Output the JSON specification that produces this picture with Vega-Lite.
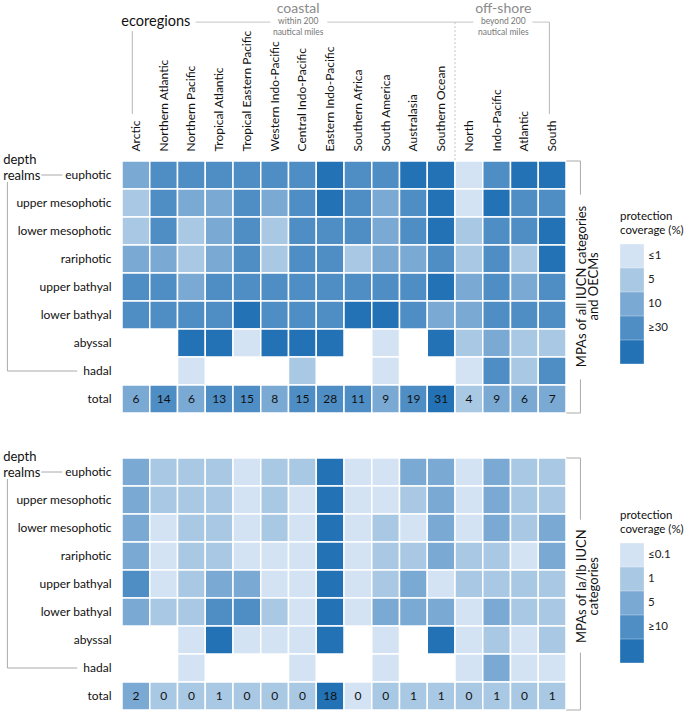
{
"$schema":"https://vega.github.io/schema/vega-lite/v6.json",
"padding":{"left":3,"top":2,"right":0,"bottom":0},
"config":{"font":"Lato","view":{"stroke":null}},
"spacing":36,
"resolve":{"scale":{"color":"independent"},"legend":{"color":"independent"}},
"datasets":{
"all":[
{"r":"Arctic","d":"euphotic","c":3},{"r":"Northern Atlantic","d":"euphotic","c":4},{"r":"Northern Pacific","d":"euphotic","c":4},{"r":"Tropical Atlantic","d":"euphotic","c":4},{"r":"Tropical Eastern Pacific","d":"euphotic","c":4},{"r":"Western Indo-Pacific","d":"euphotic","c":4},{"r":"Central Indo-Pacific","d":"euphotic","c":4},{"r":"Eastern Indo-Pacific","d":"euphotic","c":5},{"r":"Southern Africa","d":"euphotic","c":4},{"r":"South America","d":"euphotic","c":4},{"r":"Australasia","d":"euphotic","c":5},{"r":"Southern Ocean","d":"euphotic","c":5},{"r":"North","d":"euphotic","c":1},{"r":"Indo-Pacific","d":"euphotic","c":4},{"r":"Atlantic","d":"euphotic","c":5},{"r":"South","d":"euphotic","c":5},
{"r":"Arctic","d":"upper mesophotic","c":2},{"r":"Northern Atlantic","d":"upper mesophotic","c":4},{"r":"Northern Pacific","d":"upper mesophotic","c":3},{"r":"Tropical Atlantic","d":"upper mesophotic","c":3},{"r":"Tropical Eastern Pacific","d":"upper mesophotic","c":4},{"r":"Western Indo-Pacific","d":"upper mesophotic","c":3},{"r":"Central Indo-Pacific","d":"upper mesophotic","c":4},{"r":"Eastern Indo-Pacific","d":"upper mesophotic","c":5},{"r":"Southern Africa","d":"upper mesophotic","c":4},{"r":"South America","d":"upper mesophotic","c":3},{"r":"Australasia","d":"upper mesophotic","c":4},{"r":"Southern Ocean","d":"upper mesophotic","c":5},{"r":"North","d":"upper mesophotic","c":1},{"r":"Indo-Pacific","d":"upper mesophotic","c":5},{"r":"Atlantic","d":"upper mesophotic","c":4},{"r":"South","d":"upper mesophotic","c":4},
{"r":"Arctic","d":"lower mesophotic","c":2},{"r":"Northern Atlantic","d":"lower mesophotic","c":4},{"r":"Northern Pacific","d":"lower mesophotic","c":2},{"r":"Tropical Atlantic","d":"lower mesophotic","c":3},{"r":"Tropical Eastern Pacific","d":"lower mesophotic","c":4},{"r":"Western Indo-Pacific","d":"lower mesophotic","c":2},{"r":"Central Indo-Pacific","d":"lower mesophotic","c":4},{"r":"Eastern Indo-Pacific","d":"lower mesophotic","c":4},{"r":"Southern Africa","d":"lower mesophotic","c":4},{"r":"South America","d":"lower mesophotic","c":3},{"r":"Australasia","d":"lower mesophotic","c":4},{"r":"Southern Ocean","d":"lower mesophotic","c":5},{"r":"North","d":"lower mesophotic","c":2},{"r":"Indo-Pacific","d":"lower mesophotic","c":4},{"r":"Atlantic","d":"lower mesophotic","c":4},{"r":"South","d":"lower mesophotic","c":5},
{"r":"Arctic","d":"rariphotic","c":3},{"r":"Northern Atlantic","d":"rariphotic","c":3},{"r":"Northern Pacific","d":"rariphotic","c":2},{"r":"Tropical Atlantic","d":"rariphotic","c":3},{"r":"Tropical Eastern Pacific","d":"rariphotic","c":4},{"r":"Western Indo-Pacific","d":"rariphotic","c":2},{"r":"Central Indo-Pacific","d":"rariphotic","c":4},{"r":"Eastern Indo-Pacific","d":"rariphotic","c":4},{"r":"Southern Africa","d":"rariphotic","c":2},{"r":"South America","d":"rariphotic","c":3},{"r":"Australasia","d":"rariphotic","c":3},{"r":"Southern Ocean","d":"rariphotic","c":4},{"r":"North","d":"rariphotic","c":2},{"r":"Indo-Pacific","d":"rariphotic","c":4},{"r":"Atlantic","d":"rariphotic","c":2},{"r":"South","d":"rariphotic","c":5},
{"r":"Arctic","d":"upper bathyal","c":4},{"r":"Northern Atlantic","d":"upper bathyal","c":4},{"r":"Northern Pacific","d":"upper bathyal","c":3},{"r":"Tropical Atlantic","d":"upper bathyal","c":4},{"r":"Tropical Eastern Pacific","d":"upper bathyal","c":4},{"r":"Western Indo-Pacific","d":"upper bathyal","c":4},{"r":"Central Indo-Pacific","d":"upper bathyal","c":4},{"r":"Eastern Indo-Pacific","d":"upper bathyal","c":4},{"r":"Southern Africa","d":"upper bathyal","c":4},{"r":"South America","d":"upper bathyal","c":4},{"r":"Australasia","d":"upper bathyal","c":4},{"r":"Southern Ocean","d":"upper bathyal","c":5},{"r":"North","d":"upper bathyal","c":3},{"r":"Indo-Pacific","d":"upper bathyal","c":4},{"r":"Atlantic","d":"upper bathyal","c":3},{"r":"South","d":"upper bathyal","c":4},
{"r":"Arctic","d":"lower bathyal","c":4},{"r":"Northern Atlantic","d":"lower bathyal","c":4},{"r":"Northern Pacific","d":"lower bathyal","c":4},{"r":"Tropical Atlantic","d":"lower bathyal","c":4},{"r":"Tropical Eastern Pacific","d":"lower bathyal","c":5},{"r":"Western Indo-Pacific","d":"lower bathyal","c":4},{"r":"Central Indo-Pacific","d":"lower bathyal","c":4},{"r":"Eastern Indo-Pacific","d":"lower bathyal","c":4},{"r":"Southern Africa","d":"lower bathyal","c":5},{"r":"South America","d":"lower bathyal","c":5},{"r":"Australasia","d":"lower bathyal","c":4},{"r":"Southern Ocean","d":"lower bathyal","c":3},{"r":"North","d":"lower bathyal","c":3},{"r":"Indo-Pacific","d":"lower bathyal","c":4},{"r":"Atlantic","d":"lower bathyal","c":4},{"r":"South","d":"lower bathyal","c":4},
{"r":"Northern Pacific","d":"abyssal","c":5},{"r":"Tropical Atlantic","d":"abyssal","c":5},{"r":"Tropical Eastern Pacific","d":"abyssal","c":1},{"r":"Western Indo-Pacific","d":"abyssal","c":5},{"r":"Central Indo-Pacific","d":"abyssal","c":5},{"r":"Eastern Indo-Pacific","d":"abyssal","c":5},{"r":"South America","d":"abyssal","c":1},{"r":"Southern Ocean","d":"abyssal","c":5},{"r":"North","d":"abyssal","c":2},{"r":"Indo-Pacific","d":"abyssal","c":3},{"r":"Atlantic","d":"abyssal","c":2},{"r":"South","d":"abyssal","c":2},
{"r":"Northern Pacific","d":"hadal","c":1},{"r":"Central Indo-Pacific","d":"hadal","c":2},{"r":"South America","d":"hadal","c":1},{"r":"North","d":"hadal","c":1},{"r":"Indo-Pacific","d":"hadal","c":4},{"r":"Atlantic","d":"hadal","c":2},{"r":"South","d":"hadal","c":4},
{"r":"Arctic","d":"total","c":3,"n":6},{"r":"Northern Atlantic","d":"total","c":4,"n":14},{"r":"Northern Pacific","d":"total","c":3,"n":6},{"r":"Tropical Atlantic","d":"total","c":4,"n":13},{"r":"Tropical Eastern Pacific","d":"total","c":4,"n":15},{"r":"Western Indo-Pacific","d":"total","c":3,"n":8},{"r":"Central Indo-Pacific","d":"total","c":4,"n":15},{"r":"Eastern Indo-Pacific","d":"total","c":4,"n":28},{"r":"Southern Africa","d":"total","c":4,"n":11},{"r":"South America","d":"total","c":3,"n":9},{"r":"Australasia","d":"total","c":4,"n":19},{"r":"Southern Ocean","d":"total","c":5,"n":31},{"r":"North","d":"total","c":2,"n":4},{"r":"Indo-Pacific","d":"total","c":3,"n":9},{"r":"Atlantic","d":"total","c":3,"n":6},{"r":"South","d":"total","c":3,"n":7}
],
"ia":[
{"r":"Arctic","d":"euphotic","c":3},{"r":"Northern Atlantic","d":"euphotic","c":2},{"r":"Northern Pacific","d":"euphotic","c":2},{"r":"Tropical Atlantic","d":"euphotic","c":2},{"r":"Tropical Eastern Pacific","d":"euphotic","c":1},{"r":"Western Indo-Pacific","d":"euphotic","c":2},{"r":"Central Indo-Pacific","d":"euphotic","c":2},{"r":"Eastern Indo-Pacific","d":"euphotic","c":5},{"r":"Southern Africa","d":"euphotic","c":1},{"r":"South America","d":"euphotic","c":1},{"r":"Australasia","d":"euphotic","c":3},{"r":"Southern Ocean","d":"euphotic","c":3},{"r":"North","d":"euphotic","c":1},{"r":"Indo-Pacific","d":"euphotic","c":3},{"r":"Atlantic","d":"euphotic","c":2},{"r":"South","d":"euphotic","c":2},
{"r":"Arctic","d":"upper mesophotic","c":3},{"r":"Northern Atlantic","d":"upper mesophotic","c":2},{"r":"Northern Pacific","d":"upper mesophotic","c":2},{"r":"Tropical Atlantic","d":"upper mesophotic","c":2},{"r":"Tropical Eastern Pacific","d":"upper mesophotic","c":1},{"r":"Western Indo-Pacific","d":"upper mesophotic","c":2},{"r":"Central Indo-Pacific","d":"upper mesophotic","c":1},{"r":"Eastern Indo-Pacific","d":"upper mesophotic","c":5},{"r":"Southern Africa","d":"upper mesophotic","c":1},{"r":"South America","d":"upper mesophotic","c":1},{"r":"Australasia","d":"upper mesophotic","c":2},{"r":"Southern Ocean","d":"upper mesophotic","c":3},{"r":"North","d":"upper mesophotic","c":1},{"r":"Indo-Pacific","d":"upper mesophotic","c":3},{"r":"Atlantic","d":"upper mesophotic","c":2},{"r":"South","d":"upper mesophotic","c":2},
{"r":"Arctic","d":"lower mesophotic","c":3},{"r":"Northern Atlantic","d":"lower mesophotic","c":1},{"r":"Northern Pacific","d":"lower mesophotic","c":2},{"r":"Tropical Atlantic","d":"lower mesophotic","c":2},{"r":"Tropical Eastern Pacific","d":"lower mesophotic","c":1},{"r":"Western Indo-Pacific","d":"lower mesophotic","c":2},{"r":"Central Indo-Pacific","d":"lower mesophotic","c":1},{"r":"Eastern Indo-Pacific","d":"lower mesophotic","c":5},{"r":"Southern Africa","d":"lower mesophotic","c":1},{"r":"South America","d":"lower mesophotic","c":2},{"r":"Australasia","d":"lower mesophotic","c":1},{"r":"Southern Ocean","d":"lower mesophotic","c":3},{"r":"North","d":"lower mesophotic","c":1},{"r":"Indo-Pacific","d":"lower mesophotic","c":3},{"r":"Atlantic","d":"lower mesophotic","c":2},{"r":"South","d":"lower mesophotic","c":3},
{"r":"Arctic","d":"rariphotic","c":3},{"r":"Northern Atlantic","d":"rariphotic","c":1},{"r":"Northern Pacific","d":"rariphotic","c":2},{"r":"Tropical Atlantic","d":"rariphotic","c":2},{"r":"Tropical Eastern Pacific","d":"rariphotic","c":1},{"r":"Western Indo-Pacific","d":"rariphotic","c":1},{"r":"Central Indo-Pacific","d":"rariphotic","c":1},{"r":"Eastern Indo-Pacific","d":"rariphotic","c":5},{"r":"Southern Africa","d":"rariphotic","c":1},{"r":"South America","d":"rariphotic","c":2},{"r":"Australasia","d":"rariphotic","c":2},{"r":"Southern Ocean","d":"rariphotic","c":3},{"r":"North","d":"rariphotic","c":2},{"r":"Indo-Pacific","d":"rariphotic","c":2},{"r":"Atlantic","d":"rariphotic","c":1},{"r":"South","d":"rariphotic","c":3},
{"r":"Arctic","d":"upper bathyal","c":4},{"r":"Northern Atlantic","d":"upper bathyal","c":1},{"r":"Northern Pacific","d":"upper bathyal","c":2},{"r":"Tropical Atlantic","d":"upper bathyal","c":3},{"r":"Tropical Eastern Pacific","d":"upper bathyal","c":3},{"r":"Western Indo-Pacific","d":"upper bathyal","c":1},{"r":"Central Indo-Pacific","d":"upper bathyal","c":1},{"r":"Eastern Indo-Pacific","d":"upper bathyal","c":5},{"r":"Southern Africa","d":"upper bathyal","c":1},{"r":"South America","d":"upper bathyal","c":2},{"r":"Australasia","d":"upper bathyal","c":3},{"r":"Southern Ocean","d":"upper bathyal","c":1},{"r":"North","d":"upper bathyal","c":2},{"r":"Indo-Pacific","d":"upper bathyal","c":2},{"r":"Atlantic","d":"upper bathyal","c":2},{"r":"South","d":"upper bathyal","c":2},
{"r":"Arctic","d":"lower bathyal","c":3},{"r":"Northern Atlantic","d":"lower bathyal","c":2},{"r":"Northern Pacific","d":"lower bathyal","c":2},{"r":"Tropical Atlantic","d":"lower bathyal","c":4},{"r":"Tropical Eastern Pacific","d":"lower bathyal","c":4},{"r":"Western Indo-Pacific","d":"lower bathyal","c":2},{"r":"Central Indo-Pacific","d":"lower bathyal","c":1},{"r":"Eastern Indo-Pacific","d":"lower bathyal","c":5},{"r":"Southern Africa","d":"lower bathyal","c":1},{"r":"South America","d":"lower bathyal","c":3},{"r":"Australasia","d":"lower bathyal","c":3},{"r":"Southern Ocean","d":"lower bathyal","c":3},{"r":"North","d":"lower bathyal","c":1},{"r":"Indo-Pacific","d":"lower bathyal","c":3},{"r":"Atlantic","d":"lower bathyal","c":2},{"r":"South","d":"lower bathyal","c":2},
{"r":"Northern Pacific","d":"abyssal","c":1},{"r":"Tropical Atlantic","d":"abyssal","c":5},{"r":"Tropical Eastern Pacific","d":"abyssal","c":1},{"r":"Western Indo-Pacific","d":"abyssal","c":1},{"r":"Central Indo-Pacific","d":"abyssal","c":1},{"r":"Eastern Indo-Pacific","d":"abyssal","c":5},{"r":"South America","d":"abyssal","c":1},{"r":"Southern Ocean","d":"abyssal","c":5},{"r":"North","d":"abyssal","c":1},{"r":"Indo-Pacific","d":"abyssal","c":2},{"r":"Atlantic","d":"abyssal","c":1},{"r":"South","d":"abyssal","c":2},
{"r":"Northern Pacific","d":"hadal","c":1},{"r":"Central Indo-Pacific","d":"hadal","c":1},{"r":"South America","d":"hadal","c":1},{"r":"North","d":"hadal","c":1},{"r":"Indo-Pacific","d":"hadal","c":3},{"r":"Atlantic","d":"hadal","c":1},{"r":"South","d":"hadal","c":1},
{"r":"Arctic","d":"total","c":3,"n":2},{"r":"Northern Atlantic","d":"total","c":2,"n":0},{"r":"Northern Pacific","d":"total","c":2,"n":0},{"r":"Tropical Atlantic","d":"total","c":2,"n":1},{"r":"Tropical Eastern Pacific","d":"total","c":2,"n":0},{"r":"Western Indo-Pacific","d":"total","c":2,"n":0},{"r":"Central Indo-Pacific","d":"total","c":2,"n":0},{"r":"Eastern Indo-Pacific","d":"total","c":5,"n":18},{"r":"Southern Africa","d":"total","c":1,"n":0},{"r":"South America","d":"total","c":2,"n":0},{"r":"Australasia","d":"total","c":2,"n":1},{"r":"Southern Ocean","d":"total","c":2,"n":1},{"r":"North","d":"total","c":2,"n":0},{"r":"Indo-Pacific","d":"total","c":2,"n":1},{"r":"Atlantic","d":"total","c":2,"n":0},{"r":"South","d":"total","c":2,"n":1}
]},
"vconcat":[
{"width":444,"height":252,
"resolve":{"scale":{"x":"independent","y":"independent"}},
"layer":[
{"data":{"name":"all"},
"encoding":{
"x":{"field":"r","type":"nominal","sort":null,"scale":{"domain":["Arctic","Northern Atlantic","Northern Pacific","Tropical Atlantic","Tropical Eastern Pacific","Western Indo-Pacific","Central Indo-Pacific","Eastern Indo-Pacific","Southern Africa","South America","Australasia","Southern Ocean","North","Indo-Pacific","Atlantic","South"],"paddingInner":0,"paddingOuter":0},"axis":{"orient":"top","title":null,"domain":false,"ticks":false,"labelAngle":-90,"labelFontSize":12,"labelPadding":10,"labelColor":"#111","labelLimit":200}},
"y":{"field":"d","type":"nominal","sort":null,"scale":{"domain":["euphotic","upper mesophotic","lower mesophotic","rariphotic","upper bathyal","lower bathyal","abyssal","hadal","total"],"paddingInner":0,"paddingOuter":0},"axis":{"title":null,"domain":false,"ticks":false,"labelFontSize":12,"labelPadding":11,"labelColor":"#111"}}},
"layer":[
{"mark":{"type":"rect","stroke":"white","strokeWidth":1.5},
"encoding":{"color":{"field":"c","type":"ordinal","scale":{"domain":[1,2,3,4,5],"range":["#d3e3f3","#a9c8e3","#7aa9d4","#4e8ec5","#2372b5"]},
"legend":{"title":["protection","coverage (%)"],"orient":"none","legendX":498,"legendY":50,"direction":"vertical","symbolType":"square","symbolSize":560,"symbolStrokeWidth":0,"symbolOpacity":1,"rowPadding":0,"titleFontWeight":"normal","titleFontSize":11.5,"titleColor":"#111","titlePadding":8,"labelFontSize":11.5,"labelColor":"#222","labelOffset":4,"labelExpr":"datum.value == 1 ? '≤1' : datum.value == 2 ? '5' : datum.value == 3 ? '10' : datum.value == 4 ? '≥30' : ''","encode":{"labels":{"update":{"dy":{"value":12}}}}}}}},
{"mark":{"type":"text","fontSize":12,"color":"#111"},"transform":[{"filter":"isValid(datum.n)"}],"encoding":{"text":{"field":"n","type":"quantitative"}}}
]},
{"data":{"values":[{}]},
"layer":[
{"mark":{"type":"text","align":"right","baseline":"middle","fontSize":14.5,"color":"#111","text":"ecoregions"},"encoding":{"x":{"datum":2.46,"type":"quantitative","scale":{"domain":[0,16],"nice":false,"zero":false},"axis":null},"y":{"datum":-4.96,"type":"quantitative","scale":{"domain":[0,9],"nice":false,"zero":false,"reverse":true},"axis":null}}},
{"mark":{"type":"rule","color":"#c4c4c4"},"encoding":{"x":{"datum":2.65,"type":"quantitative","scale":{"domain":[0,16],"nice":false,"zero":false},"axis":null},"x2":{"datum":5.35},"y":{"datum":-4.96,"type":"quantitative","scale":{"domain":[0,9],"nice":false,"zero":false,"reverse":true},"axis":null}}},
{"mark":{"type":"rule","color":"#c4c4c4"},"encoding":{"x":{"datum":7.4,"type":"quantitative","scale":{"domain":[0,16],"nice":false,"zero":false},"axis":null},"x2":{"datum":12.66},"y":{"datum":-4.96,"type":"quantitative","scale":{"domain":[0,9],"nice":false,"zero":false,"reverse":true},"axis":null}}},
{"mark":{"type":"rule","color":"#c4c4c4"},"encoding":{"x":{"datum":14.79,"type":"quantitative","scale":{"domain":[0,16],"nice":false,"zero":false},"axis":null},"x2":{"datum":15.4},"y":{"datum":-4.96,"type":"quantitative","scale":{"domain":[0,9],"nice":false,"zero":false,"reverse":true},"axis":null}}},
{"mark":{"type":"rule","color":"#b5b5b5"},"encoding":{"x":{"datum":15.4,"type":"quantitative","scale":{"domain":[0,16],"nice":false,"zero":false},"axis":null},"y":{"datum":-4.96,"type":"quantitative","scale":{"domain":[0,9],"nice":false,"zero":false,"reverse":true},"axis":null},"y2":{"datum":-1.68}}},
{"mark":{"type":"rule","color":"#b5b5b5"},"encoding":{"x":{"datum":0.37,"type":"quantitative","scale":{"domain":[0,16],"nice":false,"zero":false},"axis":null},"y":{"datum":-4.64,"type":"quantitative","scale":{"domain":[0,9],"nice":false,"zero":false,"reverse":true},"axis":null},"y2":{"datum":-1.68}}},
{"mark":{"type":"rule","color":"#c4c4c4","strokeDash":[2,2]},"encoding":{"x":{"datum":12,"type":"quantitative","scale":{"domain":[0,16],"nice":false,"zero":false},"axis":null},"y":{"datum":-4.96,"type":"quantitative","scale":{"domain":[0,9],"nice":false,"zero":false,"reverse":true},"axis":null},"y2":{"datum":0}}},
{"mark":{"type":"text","align":"center","baseline":"middle","fontSize":14,"color":"#8a8a8a","text":"coastal"},"encoding":{"x":{"datum":6.35,"type":"quantitative","scale":{"domain":[0,16],"nice":false,"zero":false},"axis":null},"y":{"datum":-5.42,"type":"quantitative","scale":{"domain":[0,9],"nice":false,"zero":false,"reverse":true},"axis":null}}},
{"mark":{"type":"text","align":"center","baseline":"middle","fontSize":8.5,"color":"#777","text":"within 200"},"encoding":{"x":{"datum":6.35,"type":"quantitative","scale":{"domain":[0,16],"nice":false,"zero":false},"axis":null},"y":{"datum":-5.0,"type":"quantitative","scale":{"domain":[0,9],"nice":false,"zero":false,"reverse":true},"axis":null}}},
{"mark":{"type":"text","align":"center","baseline":"middle","fontSize":8.5,"color":"#777","text":"nautical miles"},"encoding":{"x":{"datum":6.35,"type":"quantitative","scale":{"domain":[0,16],"nice":false,"zero":false},"axis":null},"y":{"datum":-4.62,"type":"quantitative","scale":{"domain":[0,9],"nice":false,"zero":false,"reverse":true},"axis":null}}},
{"mark":{"type":"text","align":"center","baseline":"middle","fontSize":14,"color":"#8a8a8a","text":"off-shore"},"encoding":{"x":{"datum":13.74,"type":"quantitative","scale":{"domain":[0,16],"nice":false,"zero":false},"axis":null},"y":{"datum":-5.42,"type":"quantitative","scale":{"domain":[0,9],"nice":false,"zero":false,"reverse":true},"axis":null}}},
{"mark":{"type":"text","align":"center","baseline":"middle","fontSize":8.5,"color":"#777","text":"beyond 200"},"encoding":{"x":{"datum":13.74,"type":"quantitative","scale":{"domain":[0,16],"nice":false,"zero":false},"axis":null},"y":{"datum":-5.0,"type":"quantitative","scale":{"domain":[0,9],"nice":false,"zero":false,"reverse":true},"axis":null}}},
{"mark":{"type":"text","align":"center","baseline":"middle","fontSize":8.5,"color":"#777","text":"nautical miles"},"encoding":{"x":{"datum":13.74,"type":"quantitative","scale":{"domain":[0,16],"nice":false,"zero":false},"axis":null},"y":{"datum":-4.62,"type":"quantitative","scale":{"domain":[0,9],"nice":false,"zero":false,"reverse":true},"axis":null}}},
{"mark":{"type":"rule","color":"#aaa"},"encoding":{"x":{"datum":16.01,"type":"quantitative","scale":{"domain":[0,16],"nice":false,"zero":false},"axis":null},"x2":{"datum":16.52},"y":{"datum":0,"type":"quantitative","scale":{"domain":[0,9],"nice":false,"zero":false,"reverse":true},"axis":null}}},
{"mark":{"type":"rule","color":"#aaa"},"encoding":{"x":{"datum":16.01,"type":"quantitative","scale":{"domain":[0,16],"nice":false,"zero":false},"axis":null},"x2":{"datum":16.52},"y":{"datum":9,"type":"quantitative","scale":{"domain":[0,9],"nice":false,"zero":false,"reverse":true},"axis":null}}},
{"mark":{"type":"rule","color":"#aaa"},"encoding":{"x":{"datum":16.52,"type":"quantitative","scale":{"domain":[0,16],"nice":false,"zero":false},"axis":null},"y":{"datum":0,"type":"quantitative","scale":{"domain":[0,9],"nice":false,"zero":false,"reverse":true},"axis":null},"y2":{"datum":1.2}}},
{"mark":{"type":"rule","color":"#aaa"},"encoding":{"x":{"datum":16.52,"type":"quantitative","scale":{"domain":[0,16],"nice":false,"zero":false},"axis":null},"y":{"datum":7.8,"type":"quantitative","scale":{"domain":[0,9],"nice":false,"zero":false,"reverse":true},"axis":null},"y2":{"datum":9}}},
{"mark":{"type":"text","align":"center","baseline":"middle","angle":270,"fontSize":13,"color":"#111","text":"MPAs of all IUCN categories"},"encoding":{"x":{"datum":16.59,"type":"quantitative","scale":{"domain":[0,16],"nice":false,"zero":false},"axis":null},"y":{"datum":4.48,"type":"quantitative","scale":{"domain":[0,9],"nice":false,"zero":false,"reverse":true},"axis":null}}},
{"mark":{"type":"text","align":"center","baseline":"middle","angle":270,"fontSize":13,"color":"#111","text":"and OECMs"},"encoding":{"x":{"datum":17.02,"type":"quantitative","scale":{"domain":[0,16],"nice":false,"zero":false},"axis":null},"y":{"datum":4.48,"type":"quantitative","scale":{"domain":[0,9],"nice":false,"zero":false,"reverse":true},"axis":null}}},
{"mark":{"type":"text","align":"left","baseline":"middle","fontSize":13,"color":"#111","text":"depth"},"encoding":{"x":{"datum":-4.28,"type":"quantitative","scale":{"domain":[0,16],"nice":false,"zero":false},"axis":null},"y":{"datum":-0.05,"type":"quantitative","scale":{"domain":[0,9],"nice":false,"zero":false,"reverse":true},"axis":null}}},
{"mark":{"type":"text","align":"left","baseline":"middle","fontSize":13,"color":"#111","text":"realms"},"encoding":{"x":{"datum":-4.28,"type":"quantitative","scale":{"domain":[0,16],"nice":false,"zero":false},"axis":null},"y":{"datum":0.52,"type":"quantitative","scale":{"domain":[0,9],"nice":false,"zero":false,"reverse":true},"axis":null}}},
{"mark":{"type":"rule","color":"#aaa"},"encoding":{"x":{"datum":-2.91,"type":"quantitative","scale":{"domain":[0,16],"nice":false,"zero":false},"axis":null},"x2":{"datum":-2.15},"y":{"datum":0.5,"type":"quantitative","scale":{"domain":[0,9],"nice":false,"zero":false,"reverse":true},"axis":null}}},
{"mark":{"type":"rule","color":"#aaa"},"encoding":{"x":{"datum":-4.13,"type":"quantitative","scale":{"domain":[0,16],"nice":false,"zero":false},"axis":null},"y":{"datum":0.75,"type":"quantitative","scale":{"domain":[0,9],"nice":false,"zero":false,"reverse":true},"axis":null},"y2":{"datum":7.5}}},
{"mark":{"type":"rule","color":"#aaa"},"encoding":{"x":{"datum":-4.13,"type":"quantitative","scale":{"domain":[0,16],"nice":false,"zero":false},"axis":null},"x2":{"datum":-1.61},"y":{"datum":7.5,"type":"quantitative","scale":{"domain":[0,9],"nice":false,"zero":false,"reverse":true},"axis":null}}}
]}
]},
{"width":444,"height":252,
"resolve":{"scale":{"x":"independent","y":"independent"}},
"layer":[
{"data":{"name":"ia"},
"encoding":{
"x":{"field":"r","type":"nominal","sort":null,"scale":{"domain":["Arctic","Northern Atlantic","Northern Pacific","Tropical Atlantic","Tropical Eastern Pacific","Western Indo-Pacific","Central Indo-Pacific","Eastern Indo-Pacific","Southern Africa","South America","Australasia","Southern Ocean","North","Indo-Pacific","Atlantic","South"],"paddingInner":0,"paddingOuter":0},"axis":null},
"y":{"field":"d","type":"nominal","sort":null,"scale":{"domain":["euphotic","upper mesophotic","lower mesophotic","rariphotic","upper bathyal","lower bathyal","abyssal","hadal","total"],"paddingInner":0,"paddingOuter":0},"axis":{"title":null,"domain":false,"ticks":false,"labelFontSize":12,"labelPadding":11,"labelColor":"#111"}}},
"layer":[
{"mark":{"type":"rect","stroke":"white","strokeWidth":1.5},
"encoding":{"color":{"field":"c","type":"ordinal","scale":{"domain":[1,2,3,4,5],"range":["#d3e3f3","#a9c8e3","#7aa9d4","#4e8ec5","#2372b5"]},
"legend":{"title":["protection","coverage (%)"],"orient":"none","legendX":498,"legendY":52,"direction":"vertical","symbolType":"square","symbolSize":560,"symbolStrokeWidth":0,"symbolOpacity":1,"rowPadding":0,"titleFontWeight":"normal","titleFontSize":11.5,"titleColor":"#111","titlePadding":8,"labelFontSize":11.5,"labelColor":"#222","labelOffset":4,"labelExpr":"datum.value == 1 ? '≤0.1' : datum.value == 2 ? '1' : datum.value == 3 ? '5' : datum.value == 4 ? '≥10' : ''","encode":{"labels":{"update":{"dy":{"value":12}}}}}}}},
{"mark":{"type":"text","fontSize":12,"color":"#111"},"transform":[{"filter":"isValid(datum.n)"}],"encoding":{"text":{"field":"n","type":"quantitative"}}}
]},
{"data":{"values":[{}]},
"layer":[
{"mark":{"type":"rule","color":"#aaa"},"encoding":{"x":{"datum":16.01,"type":"quantitative","scale":{"domain":[0,16],"nice":false,"zero":false},"axis":null},"x2":{"datum":16.52},"y":{"datum":0,"type":"quantitative","scale":{"domain":[0,9],"nice":false,"zero":false,"reverse":true},"axis":null}}},
{"mark":{"type":"rule","color":"#aaa"},"encoding":{"x":{"datum":16.01,"type":"quantitative","scale":{"domain":[0,16],"nice":false,"zero":false},"axis":null},"x2":{"datum":16.52},"y":{"datum":9,"type":"quantitative","scale":{"domain":[0,9],"nice":false,"zero":false,"reverse":true},"axis":null}}},
{"mark":{"type":"rule","color":"#aaa"},"encoding":{"x":{"datum":16.52,"type":"quantitative","scale":{"domain":[0,16],"nice":false,"zero":false},"axis":null},"y":{"datum":0,"type":"quantitative","scale":{"domain":[0,9],"nice":false,"zero":false,"reverse":true},"axis":null},"y2":{"datum":2.2}}},
{"mark":{"type":"rule","color":"#aaa"},"encoding":{"x":{"datum":16.52,"type":"quantitative","scale":{"domain":[0,16],"nice":false,"zero":false},"axis":null},"y":{"datum":6.95,"type":"quantitative","scale":{"domain":[0,9],"nice":false,"zero":false,"reverse":true},"axis":null},"y2":{"datum":9}}},
{"mark":{"type":"text","align":"center","baseline":"middle","angle":270,"fontSize":13,"color":"#111","text":"MPAs of Ia/Ib IUCN"},"encoding":{"x":{"datum":16.59,"type":"quantitative","scale":{"domain":[0,16],"nice":false,"zero":false},"axis":null},"y":{"datum":4.58,"type":"quantitative","scale":{"domain":[0,9],"nice":false,"zero":false,"reverse":true},"axis":null}}},
{"mark":{"type":"text","align":"center","baseline":"middle","angle":270,"fontSize":13,"color":"#111","text":"categories"},"encoding":{"x":{"datum":17.02,"type":"quantitative","scale":{"domain":[0,16],"nice":false,"zero":false},"axis":null},"y":{"datum":4.58,"type":"quantitative","scale":{"domain":[0,9],"nice":false,"zero":false,"reverse":true},"axis":null}}},
{"mark":{"type":"text","align":"left","baseline":"middle","fontSize":13,"color":"#111","text":"depth"},"encoding":{"x":{"datum":-4.28,"type":"quantitative","scale":{"domain":[0,16],"nice":false,"zero":false},"axis":null},"y":{"datum":-0.05,"type":"quantitative","scale":{"domain":[0,9],"nice":false,"zero":false,"reverse":true},"axis":null}}},
{"mark":{"type":"text","align":"left","baseline":"middle","fontSize":13,"color":"#111","text":"realms"},"encoding":{"x":{"datum":-4.28,"type":"quantitative","scale":{"domain":[0,16],"nice":false,"zero":false},"axis":null},"y":{"datum":0.52,"type":"quantitative","scale":{"domain":[0,9],"nice":false,"zero":false,"reverse":true},"axis":null}}},
{"mark":{"type":"rule","color":"#aaa"},"encoding":{"x":{"datum":-2.91,"type":"quantitative","scale":{"domain":[0,16],"nice":false,"zero":false},"axis":null},"x2":{"datum":-2.15},"y":{"datum":0.5,"type":"quantitative","scale":{"domain":[0,9],"nice":false,"zero":false,"reverse":true},"axis":null}}},
{"mark":{"type":"rule","color":"#aaa"},"encoding":{"x":{"datum":-4.13,"type":"quantitative","scale":{"domain":[0,16],"nice":false,"zero":false},"axis":null},"y":{"datum":0.75,"type":"quantitative","scale":{"domain":[0,9],"nice":false,"zero":false,"reverse":true},"axis":null},"y2":{"datum":7.5}}},
{"mark":{"type":"rule","color":"#aaa"},"encoding":{"x":{"datum":-4.13,"type":"quantitative","scale":{"domain":[0,16],"nice":false,"zero":false},"axis":null},"x2":{"datum":-1.61},"y":{"datum":7.5,"type":"quantitative","scale":{"domain":[0,9],"nice":false,"zero":false,"reverse":true},"axis":null}}}
]}
]}
]
}
